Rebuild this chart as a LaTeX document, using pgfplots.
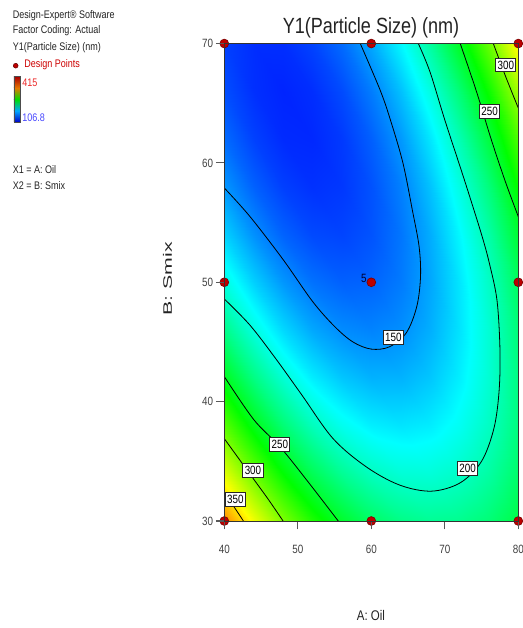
\documentclass[border=0pt]{standalone}
\usepackage{pgfplots}
\pgfplotsset{compat=1.18}
\usepackage{fontspec}
\setmainfont[FakeStretch=0.82]{Liberation Sans}
\definecolor{dered}{RGB}{190,0,0}
\definecolor{txt}{RGB}{35,35,35}
\definecolor{legred}{RGB}{235,40,40}
\definecolor{legblue}{RGB}{70,70,255}
\begin{document}
\begin{tikzpicture}
\begin{axis}[
  at={(0pt,0pt)}, anchor=south west,
  scale only axis, width=220.5pt, height=358.1pt,
  xmin=40, xmax=80, ymin=30, ymax=70,
  xtick={40,50,...,80}, ytick={30,40,...,70},
  tick align=outside, xtick pos=bottom, ytick pos=left,
  major tick length=6.3pt,
  tick style={draw=black!65, line width=0.8pt},
  ticklabel style={font=\fontsize{9}{10}\selectfont, text=black!75},
  xticklabel style={yshift=-8pt},
  yticklabel style={xshift=1.5pt},
  /pgf/number format/assume math mode=true,
  set layers=axis on top, clip=false,
  axis line style={draw=black!80, line width=0.6pt},
  colormap={de}{rgb255(0cm)=(0,0,255); rgb255(1cm)=(0,255,255); rgb255(2cm)=(0,255,0); rgb255(3cm)=(255,255,0); rgb255(4cm)=(255,0,0)},
  point meta min=106.8, point meta max=415,
]
\addplot[surf, shader=interp, mesh/cols=11, point meta=explicit] table[x=A, y=B, meta=Y] {
A B Y
40 30 374.3
44 30 333.4
48 30 298.7
52 30 270.0
56 30 247.4
60 30 230.9
64 30 220.4
68 30 216.1
72 30 217.8
76 30 225.6
80 30 239.5

40 34 328.8
44 34 291.5
48 34 260.2
52 34 235.0
56 34 215.9
60 34 202.9
64 34 195.9
68 34 195.1
72 34 200.3
76 34 211.6
80 34 229.0

40 38 288.0
44 38 254.1
48 38 226.3
52 38 204.7
56 38 189.0
60 38 179.5
64 38 176.1
68 38 178.7
72 38 187.4
76 38 202.2
80 38 223.1

40 42 251.7
44 42 221.3
48 42 197.1
52 42 178.9
56 42 166.8
60 42 160.7
64 42 160.8
68 42 166.9
72 42 179.1
76 42 197.4
80 42 221.8

40 46 220.0
44 46 193.1
48 46 172.4
52 46 157.7
56 46 149.1
60 46 146.5
64 46 150.1
68 46 159.7
72 46 175.4
76 46 197.2
80 46 225.0

40 50 192.9
44 50 169.5
48 50 152.3
52 50 141.1
56 50 135.9
60 50 136.9
64 50 143.9
68 50 157.1
72 50 176.3
76 50 201.5
80 50 232.9

40 54 170.4
44 54 150.5
48 54 136.7
52 54 129.0
56 54 127.4
60 54 131.9
64 54 142.4
68 54 159.0
72 54 181.7
76 54 210.5
80 54 245.4

40 58 152.5
44 58 136.1
48 58 125.8
52 58 121.6
56 58 123.5
60 58 131.4
64 58 145.5
68 58 165.6
72 58 191.8
76 58 224.1
80 58 262.4

40 62 139.2
44 62 126.3
48 62 119.5
52 62 118.8
56 62 124.1
60 62 135.6
64 62 153.1
68 62 176.7
72 62 206.4
76 62 242.2
80 62 284.0

40 66 130.4
44 66 121.0
48 66 117.7
52 66 120.5
56 66 129.4
60 66 144.3
64 66 165.3
68 66 192.5
72 66 225.6
76 66 264.9
80 66 310.2

40 70 126.3
44 70 120.4
48 70 120.6
52 70 126.9
56 70 139.2
60 70 157.7
64 70 182.2
68 70 212.8
72 70 249.5
76 70 292.2
80 70 341.1
};
% contour 150
\addplot[black, line width=0.6pt, smooth, tension=0.55] coordinates {
(40,57.9)(43.5,55.5)(48,51.9)(52,48.4)(55,46.3)(57.5,45.0)(60,44.4)(62.5,44.6)(64.8,45.8)(66.2,48)(66.7,50.5)(66.5,53)(65.6,56)(64.3,60)(62.6,63.6)(61.2,66.1)(58.5,70)};
% contour 200
\addplot[black, line width=0.6pt, smooth, tension=0.55] coordinates {
(40,48.6)(43.5,46.4)(47,43.6)(50.5,40.6)(54.8,36.9)(59.4,34.5)(63.9,33.0)(68.2,32.5)(72.1,33.2)(75,35)(76.7,37.8)(77.4,41)(77.5,44.5)(77.1,48.5)(76.1,51.5)(75.0,54)(72.6,58.7)(70.0,63.6)(68.0,67.6)(66.4,70)};
% contour 250
\addplot[black, line width=0.6pt, smooth, tension=0.55] coordinates {
(72.1,70)(74.3,66)(76.3,62)(78.2,58.5)(80,55.5)};
\addplot[black, line width=0.6pt, smooth, tension=0.55] coordinates {
(40,42.1)(44,38.5)(47.6,36.2)(51.5,33.2)(55.5,30)};
% contour 300
\addplot[black, line width=0.6pt, smooth, tension=0.55] coordinates {
(76.6,70)(78.3,67.2)(80,64.6)};
\addplot[black, line width=0.6pt, smooth, tension=0.55] coordinates {
(40,36.9)(42,35.2)(44,33.5)(46,31.8)(48,30)};
% contour 350
\addplot[black, line width=0.6pt, smooth, tension=0.55] coordinates {
(40,32.3)(41.3,31.2)(42.6,30)};
% contour labels
\begin{scope}[every node/.style={draw=black!85, fill=white, line width=0.7pt, inner xsep=1.4pt, inner ysep=2pt, font=\fontsize{9}{9}\selectfont, text=black}]
\node at (axis cs:63.0,45.4) {150};
\node at (axis cs:73.1,34.4) {200};
\node at (axis cs:47.55,36.4) {250};
\node at (axis cs:76.1,64.3) {250};
\node at (axis cs:43.9,34.2) {300};
\node at (axis cs:78.3,68.2) {300};
\node at (axis cs:41.5,31.8) {350};
\end{scope}
\node[anchor=east, inner sep=0.5pt, font=\fontsize{9}{10}\selectfont, text=black!80!blue] at (axis cs:59.5,50.3) {5};
% design points
\addplot[on layer=axis foreground, only marks, mark=*, mark size=3.3pt, mark options={fill=dered, draw=black!50!red, line width=0.5pt}] coordinates {
(40,30)(60,30)(80,30)(40,50)(60,50)(80,50)(40,70)(60,70)(80,70)};
\end{axis}
\begin{scope}[x=0.75pt,y=0.75pt,shift={(-224.3,-107)}]
% title and axis labels
\node[anchor=base, font=\fontsize{16.5}{18}\selectfont, text=txt] at (371,594) {Y1(Particle Size) (nm)};
\node[anchor=base, font=\fontsize{10.5}{12}\selectfont, text=txt] at (371,8) {A: Oil};
\node[anchor=base, rotate=90, inner sep=0pt, font=\fontsize{19.5}{20}\selectfont, text=txt] at (172,349) {\scalebox{1}[0.47]{B: Smix}};
% info block
\begin{scope}[every node/.style={anchor=base west, inner sep=0pt, font=\fontsize{8.25}{10}\selectfont, text=txt}]
\node at (12.5,609.7) {Design-Expert® Software};
\node at (12.5,594) {Factor Coding: Actual};
\node at (12.5,577.5) {Y1(Particle Size) (nm)};
\node[text=red!80!black] at (24,560) {Design Points};
\node[text=legred] at (22,541) {415};
\node[text=legblue] at (22,506) {106.8};
\node at (12.5,454.5) {X1 = A: Oil};
\node at (12.5,438) {X2 = B: Smix};
\end{scope}
\fill[dered, draw=black!60!red, line width=0.4pt] (15.7,562.3) circle (2.4);
\shade[bottom color={rgb,255:red,0;green,0;blue,200}, top color={rgb,255:red,0;green,170;blue,255}] (14,506) rectangle (20.7,517.3);
\shade[bottom color={rgb,255:red,0;green,170;blue,255}, top color={rgb,255:red,0;green,220;blue,0}] (14,517.3) rectangle (20.7,528.7);
\shade[bottom color={rgb,255:red,0;green,220;blue,0}, top color={rgb,255:red,230;green,120;blue,0}] (14,528.7) rectangle (20.7,540);
\shade[bottom color={rgb,255:red,230;green,120;blue,0}, top color={rgb,255:red,170;green,0;blue,0}] (14,540) rectangle (20.7,551.3);
\draw[black!70, line width=0.5pt] (14,506) rectangle (20.7,551.3);
\pgfresetboundingbox
\useasboundingbox (0,0) rectangle (522,628);
\end{scope}
\end{tikzpicture}
\end{document}
